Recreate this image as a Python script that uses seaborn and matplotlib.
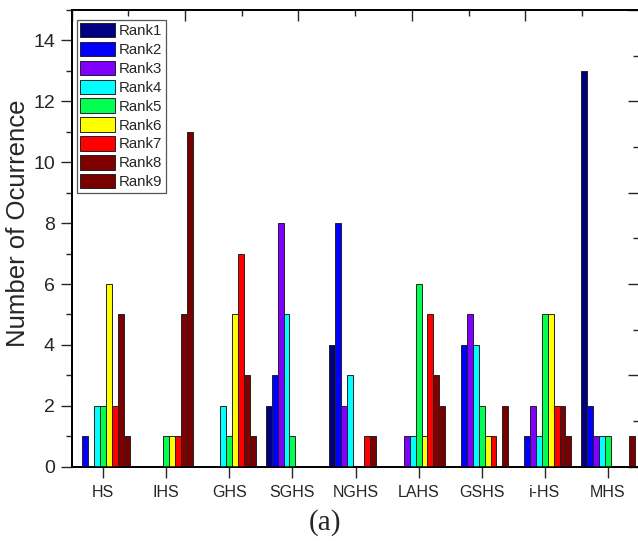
import numpy as np
import pandas as pd
import matplotlib
matplotlib.use("Agg")
import matplotlib.pyplot as plt
from matplotlib.ticker import MultipleLocator, NullFormatter
import seaborn as sns

categories = ["HS", "IHS", "GHS", "SGHS", "NGHS", "LAHS", "GSHS", "i-HS", "MHS"]
rank_names = ["Rank1", "Rank2", "Rank3", "Rank4", "Rank5", "Rank6", "Rank7", "Rank8", "Rank9"]
rank1 = [0, 0, 0, 2, 4, 0, 0, 0, 13]
rank2 = [1, 0, 0, 3, 8, 0, 4, 1, 2]
rank3 = [0, 0, 0, 8, 2, 1, 5, 2, 1]
rank4 = [2, 0, 2, 5, 3, 1, 4, 1, 1]
rank5 = [2, 1, 1, 1, 0, 6, 2, 5, 1]
rank6 = [6, 1, 5, 0, 0, 1, 1, 5, 0]
rank7 = [2, 1, 7, 0, 1, 5, 1, 2, 0]
rank8 = [5, 5, 3, 0, 1, 3, 0, 2, 0]
rank9 = [1, 11, 1, 0, 0, 2, 2, 1, 1]
series = [rank1, rank2, rank3, rank4, rank5, rank6, rank7, rank8, rank9]
colors = ["#000080", "#0000FF", "#8000FF", "#00FFFF", "#00FF50",
          "#FFFF00", "#FF0000", "#800000", "#7A0000"]

rows = []
for rn, vals in zip(rank_names, series):
    for c, v in zip(categories, vals):
        rows.append({"Method": c, "Rank": rn, "Count": v})
df = pd.DataFrame(rows)

sns.set_style("ticks")
plt.rcParams["font.family"] = ["Liberation Sans", "DejaVu Sans"]

W, H = 638, 541
fig = plt.figure(figsize=(W / 100, H / 100), dpi=100)
left, right, bottom, top = 71.6, 638.6, 466.7, 10.0
ax = fig.add_axes([left / W, 1 - bottom / H, (right - left) / W, (bottom - top) / H])

sns.barplot(data=df, x="Method", y="Count", hue="Rank", order=categories,
            hue_order=rank_names, palette=colors, width=0.85, errorbar=None,
            edgecolor="#222222", linewidth=0.7, saturation=1, ax=ax)

ax.set_xlim(-0.503, 8.49)
ax.set_ylim(0, 15)
ax.yaxis.set_major_locator(MultipleLocator(2))
ax.yaxis.set_minor_locator(MultipleLocator(1))
ax.set_xlabel("")
ax.set_ylabel("")
ax.tick_params(axis="x", which="major", length=8, width=1.0, labelsize=11.5, pad=5, direction="out")
ax.tick_params(axis="y", which="major", length=8, width=1.0, labelsize=14, pad=4, direction="out")
ax.tick_params(axis="y", which="minor", length=4, width=1.0, direction="out")
for sp in ax.spines.values():
    sp.set_linewidth(1.1)
    sp.set_color("black")
    sp.set_visible(True)

fig.text(18 / W, 1 - 223 / H, "Number of Ocurrence", rotation=90,
         ha="center", va="center", fontsize=18.5)

# secondary top/right axes with inward ticks
ax2 = ax.twinx()
ax2.set_ylim(0, 1)
ax2.yaxis.set_major_locator(MultipleLocator(0.2))
ax2.yaxis.set_minor_locator(MultipleLocator(0.1))
ax2.yaxis.set_major_formatter(NullFormatter())
ax2.tick_params(axis="y", which="major", direction="in", length=8, width=1.0)
ax2.tick_params(axis="y", which="minor", direction="in", length=4, width=1.0)
ax3 = ax.twiny()
ax3.set_xlim(0, 1)
ax3.xaxis.set_major_locator(MultipleLocator(0.2))
ax3.xaxis.set_minor_locator(MultipleLocator(0.1))
ax3.xaxis.set_major_formatter(NullFormatter())
ax3.tick_params(axis="x", which="major", direction="in", length=8, width=1.0)
ax3.tick_params(axis="x", which="minor", direction="in", length=4, width=1.0)
for a in (ax2, ax3):
    for sp in a.spines.values():
        sp.set_linewidth(1.1)
        sp.set_color("black")

sns.move_legend(ax, loc="upper left", bbox_to_anchor=(76.7 / W, 1 - 19.5 / H),
                bbox_transform=fig.transFigure, title=None, frameon=True,
                fancybox=False, fontsize=10.8, handlelength=2.3, handleheight=1.1,
                labelspacing=0.24, handletextpad=0.28, borderpad=0.22,
                borderaxespad=0, framealpha=1)
leg = ax.get_legend()
leg.get_frame().set_edgecolor("#555555")
leg.get_frame().set_linewidth(0.9)
leg.set_zorder(10)
ax.set_zorder(ax3.get_zorder() + 1)
ax.patch.set_visible(False)

fig.text(325 / W, 1 - 523 / H, "(a)", ha="center", va="center",
         fontsize=21, family=["Liberation Serif", "DejaVu Serif"])

fig.savefig("out.png", dpi=100, facecolor="white")
